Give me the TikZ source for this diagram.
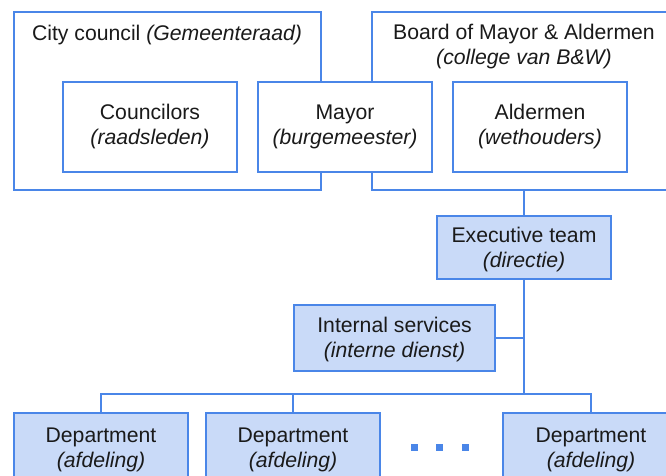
\documentclass[tikz,border=0pt]{standalone}
\usepackage{fontspec}
\setmainfont{Liberation Sans}
\definecolor{edge}{HTML}{4A86E8}
\definecolor{panel}{HTML}{C9DAF8}
\definecolor{ink}{HTML}{1A1A1A}
\begin{document}
\begin{tikzpicture}[x=1pt,y=-1pt,
  every node/.style={inner sep=0pt,outer sep=0pt,text=ink,align=center,
    font=\fontsize{21.2}{25}\selectfont},
  group/.style={draw=edge,line width=1.8pt,fill=white,rectangle},
  member/.style={draw=edge,line width=1.8pt,fill=white,rectangle,
    minimum width=174pt,minimum height=90pt},
  unit/.style={draw=edge,line width=1.8pt,fill=panel,rectangle},
  conn/.style={draw=edge,line width=1.8pt},
  dotmark/.style={fill=edge,minimum size=7pt,rectangle}]
\useasboundingbox (0,0) rectangle (666,475);
\clip (0,0) rectangle (666,475);

% governing bodies
\node[group,minimum width=307pt,minimum height=178pt] (council) at (167.5,101) {};
\node[group,minimum width=308pt,minimum height=178pt] (board) at (526,101) {};
\node (councilT) at (167,35) {City council \textit{(Gemeenteraad)}};
\node (boardT) at (524,47) {Board of Mayor \& Aldermen\\\textit{(college van B\&W)}};

\node[member] (councilors) at (150,127) {Councilors\\\textit{(raadsleden)}};
\node[member] (mayor) at (345,127) {Mayor\\\textit{(burgemeester)}};
\node[member] (aldermen) at (540,127) {Aldermen\\\textit{(wethouders)}};

% administration
\node[unit,minimum width=174pt,minimum height=63pt] (exec) at (524,247.5) {};
\node (execT) at (524,249.5) {Executive team\\\textit{(directie)}};
\node[unit,minimum width=201pt,minimum height=66pt] (internal) at (394.5,338) {};
\node (internalT) at (394.5,340) {Internal services\\\textit{(interne dienst)}};

\node[unit,minimum width=174pt,minimum height=74pt] (dept1) at (101,450) {Department\\\textit{(afdeling)}};
\node[unit,minimum width=174pt,minimum height=74pt] (dept2) at (293,450) {Department\\\textit{(afdeling)}};
\node[unit,minimum width=176pt,minimum height=74pt] (dept3) at (591,450) {Department\\\textit{(afdeling)}};

\node[dotmark] (dotA) at (414,447) {};
\node[dotmark] (dotB) at (439.5,447) {};
\node[dotmark] (dotC) at (465,447) {};

% reporting lines
\coordinate (bus) at (524,394);
\draw[conn] (exec.north) -- (exec.north |- board.south);
\draw[conn] (exec.south) -- (bus);
\draw[conn] (internal.east) -- (internal.east -| bus);
\draw[conn] (dept1.north) |- (bus) -| (dept3.north);
\draw[conn] (dept2.north) -- (dept2.north |- bus);
\end{tikzpicture}
\end{document}
